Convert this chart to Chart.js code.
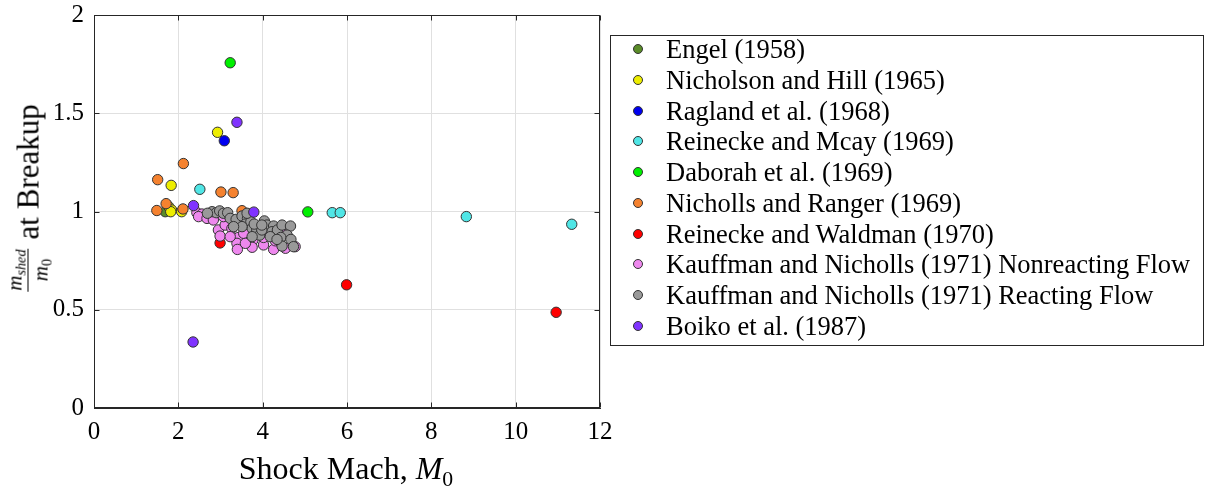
<!DOCTYPE html>
<html>
<head>
<meta charset="utf-8">
<script src="https://cdn.jsdelivr.net/npm/chart.js@4.4.0/dist/chart.umd.min.js"></script>
<style>
html,body{margin:0;padding:0;background:#fff;}
#wrap{position:relative;width:1209px;height:487px;font-family:"Liberation Serif","Times New Roman",serif;color:#000;overflow:hidden;}
#c{position:absolute;left:0;top:0;}
#ytitle{position:absolute;left:28px;top:198px;transform:translate(-50%,-50%) rotate(-90deg);white-space:nowrap;display:flex;align-items:center;font-size:31px;line-height:1;}
.frac{display:inline-flex;flex-direction:column;align-items:center;font-size:21px;margin-right:9px;}
.frac .num{border-bottom:1.2px solid #000;padding:0 1px 2px 1px;line-height:1;}
.frac .den{line-height:1;padding-top:2px;}
.it{font-style:italic;}
.sb{font-size:0.68em;font-style:italic;position:relative;top:0.3em;}
#xtitle{position:absolute;left:346px;top:468px;transform:translate(-50%,-50%);font-size:32px;white-space:nowrap;line-height:1;}
#legend{position:absolute;left:610px;top:35px;width:592px;height:309px;border:1px solid #262626;background:#fff;}
.row{position:absolute;left:0;height:30px;width:590px;}
.dot{position:absolute;left:22px;top:10px;width:8px;height:8px;border-radius:50%;border:1px solid #333;}
.lab{position:absolute;left:55px;top:0;height:30px;line-height:30px;font-size:26.5px;white-space:nowrap;}
</style>
</head>
<body>
<div id="wrap">
  <canvas id="c" width="1209" height="487"></canvas>
  <div id="ytitle"><span class="frac"><span class="num"><span class="it">m</span><span class="sb">shed</span></span><span class="den"><span class="it">m</span><span class="sb" style="font-style:normal">0</span></span></span><span>at Breakup</span></div>
  <div id="xtitle">Shock Mach, <span class="it">M</span><span class="sb" style="font-style:normal;font-size:0.68em">0</span></div>
  <div id="legend"></div>
</div>
<script>
// ---- Data ----
const seriesNames = [
  "Engel (1958)",
  "Nicholson and Hill (1965)",
  "Ragland et al. (1968)",
  "Reinecke and Mcay (1969)",
  "Daborah et al. (1969)",
  "Nicholls and Ranger (1969)",
  "Reinecke and Waldman (1970)",
  "Kauffman and Nicholls (1971) Nonreacting Flow",
  "Kauffman and Nicholls (1971) Reacting Flow",
  "Boiko et al. (1987)"
];
const seriesColors = ["#5a8c28","#eded00","#0000f0","#50e6e6","#00f000","#f5822f","#ff0000","#ee88ee","#999999","#8033ff"];

const engelX = [1.69];
const engelY = [0.999];
const nicholsonX = [2.93, 1.83, 1.77, 1.84, 1.82, 2.08];
const nicholsonY = [1.403, 1.133, 1.025, 1.008, 0.999, 0.999];
const raglandX = [3.09];
const raglandY = [1.36];
const mcayX = [2.51, 5.65, 5.84, 8.83, 11.33];
const mcayY = [1.113, 0.994, 0.994, 0.974, 0.935];
const daborahX = [3.23, 5.07];
const daborahY = [1.757, 0.998];
const rangerX = [2.12, 1.51, 3.01, 3.30, 1.71, 1.49, 2.11, 3.51];
const rangerY = [1.244, 1.162, 1.099, 1.096, 1.04, 1.005, 1.013, 1.004];
const waldmanX = [2.99, 5.99, 10.96];
const waldmanY = [0.84, 0.627, 0.487];
const nonreactX = [2.44, 2.56, 2.48, 2.68, 2.83, 2.95, 2.99, 3.11, 3.27, 3.43, 3.39, 3.40, 3.55, 3.77, 3.75, 4.02, 4.02, 4.26, 4.54, 4.30, 3.82, 3.23, 3.63, 3.90, 4.18, 4.77, 3.39, 3.59, 3.07, 4.46];
const nonreactY = [0.994, 0.987, 0.974, 0.965, 0.957, 0.906, 0.875, 0.931, 0.914, 0.868, 0.838, 0.807, 0.889, 0.855, 0.818, 0.830, 0.868, 0.807, 0.813, 0.851, 0.889, 0.872, 0.940, 0.914, 0.889, 0.821, 0.948, 0.838, 0.974, 0.889];
const reactX = [2.80, 2.90, 2.98, 3.07, 3.17, 3.23, 3.37, 3.51, 3.64, 3.59, 3.72, 3.75, 3.86, 3.93, 4.04, 4.10, 4.26, 4.22, 4.35, 4.46, 4.66, 4.58, 4.43, 4.67, 4.73, 4.46, 3.98, 3.80, 3.51, 3.31, 3.98, 4.18, 4.34, 2.69, 3.63, 3.75];
const reactY = [0.999, 0.994, 1.003, 0.991, 0.994, 0.965, 0.960, 0.977, 0.965, 0.936, 0.948, 0.914, 0.906, 0.880, 0.952, 0.931, 0.926, 0.897, 0.906, 0.931, 0.926, 0.880, 0.868, 0.858, 0.821, 0.824, 0.906, 0.936, 0.923, 0.923, 0.931, 0.872, 0.858, 0.991, 0.991, 0.872];
const boikoX = [3.39, 2.36, 3.79, 2.35];
const boikoY = [1.454, 1.03, 0.997, 0.336];

const xTicks = [0, 2, 4, 6, 8, 10, 12];
const xTickLabels = ["0", "2", "4", "6", "8", "10", "12"];
const yTicks = [0, 0.5, 1, 1.5, 2];
const yTickLabels = ["0", "0.5", "1", "1.5", "2"];

const seriesX = [engelX, nicholsonX, raglandX, mcayX, daborahX, rangerX, waldmanX, nonreactX, reactX, boikoX];
const seriesY = [engelY, nicholsonY, raglandY, mcayY, daborahY, rangerY, waldmanY, nonreactY, reactY, boikoY];

const FONT = '"Liberation Serif", "Times New Roman", serif';

const datasets = seriesNames.map((name, i) => ({
  label: name,
  data: seriesX[i].map((x, k) => ({x: x, y: seriesY[i][k]})),
  backgroundColor: seriesColors[i],
  borderColor: '#333333',
  borderWidth: 1,
  pointRadius: 5.2,
  pointHoverRadius: 5.2,
  order: seriesNames.length - i
}));

const boxPlugin = {
  id: 'boxPlugin',
  afterDraw(chart) {
    const {ctx, chartArea: a, scales} = chart;
    const L = Math.round(a.left) + 0.5, R = Math.round(a.right) - 0.5;
    const T = Math.round(a.top) + 0.5, B = Math.round(a.bottom) - 0.5;
    ctx.save();
    ctx.strokeStyle = '#262626';
    ctx.lineWidth = 1;
    ctx.strokeRect(L, T, R - L, B - T);
    const tl = 5;
    ctx.beginPath();
    xTicks.forEach(v => {
      const px = Math.round(scales.x.getPixelForValue(v)) + 0.5;
      ctx.moveTo(px, B); ctx.lineTo(px, B - tl);
      ctx.moveTo(px, T); ctx.lineTo(px, T + tl);
    });
    yTicks.forEach(v => {
      const py = Math.round(scales.y.getPixelForValue(v)) + 0.5;
      ctx.moveTo(L, py); ctx.lineTo(L + tl, py);
      ctx.moveTo(R, py); ctx.lineTo(R - tl, py);
    });
    ctx.stroke();
    ctx.restore();
  }
};

new Chart(document.getElementById('c'), {
  type: 'scatter',
  data: {datasets},
  options: {
    responsive: false,
    animation: false,
    devicePixelRatio: 1,
    layout: {padding: {left: 0, top: 15, right: 609, bottom: 0}},
    plugins: {legend: {display: false}, tooltip: {enabled: false}},
    scales: {
      x: {
        type: 'linear', min: 0, max: 12,
        afterBuildTicks: s => { s.ticks = xTicks.map(v => ({value: v})); },
        afterFit: s => { s.height = 79; s.paddingLeft = 0; s.paddingRight = 0; },
        grid: {color: '#e0e0e0', drawTicks: false},
        border: {color: '#262626'},
        ticks: {font: {family: FONT, size: 25}, color: '#000', padding: 9,
                callback: (v, i) => xTickLabels[i]}
      },
      y: {
        type: 'linear', min: 0, max: 2,
        afterBuildTicks: s => { s.ticks = yTicks.map(v => ({value: v})); },
        afterFit: s => { s.width = 94; s.paddingTop = 0; s.paddingBottom = 0; },
        grid: {color: '#e0e0e0', drawTicks: false},
        border: {color: '#262626'},
        ticks: {font: {family: FONT, size: 25}, color: '#000', padding: 10,
                callback: (v, i) => yTickLabels[i]}
      }
    }
  },
  plugins: [boxPlugin]
});

// Legend (HTML)
const leg = document.getElementById('legend');
seriesNames.forEach((name, i) => {
  const row = document.createElement('div');
  row.className = 'row';
  row.style.top = (-2 + 30.75 * i) + 'px';
  const dot = document.createElement('div');
  dot.className = 'dot';
  dot.style.background = seriesColors[i];
  const lab = document.createElement('div');
  lab.className = 'lab';
  lab.textContent = name;
  row.appendChild(dot); row.appendChild(lab);
  leg.appendChild(row);
});
</script>
</body>
</html>
